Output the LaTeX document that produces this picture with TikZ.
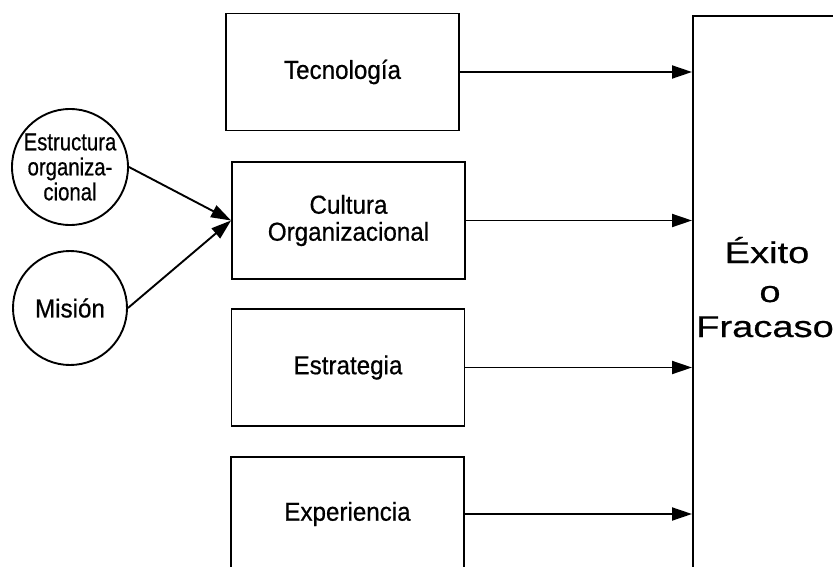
\documentclass[tikz,border=0pt]{standalone}
\usepackage{fontspec}
\setmainfont[FakeStretch=0.93, FakeBold=0.6]{Liberation Sans}
\newfontfamily\circfont[FakeStretch=0.83, FakeBold=0.6]{Liberation Sans}
\newfontfamily\bigfont[FakeStretch=1.27, FakeBold=0.6]{Liberation Sans}
\usetikzlibrary{arrows.meta}

\tikzset{
  stroke/.style={line width=1.9pt, draw=black},
  stepbox/.style={stroke, rectangle, minimum width=233pt, minimum height=117pt,
    inner sep=0pt, align=center, font=\fontsize{26}{27}\selectfont},
  factor/.style={stroke, circle, inner sep=0pt, align=center},
  link/.style={line width=1.9pt, -{Triangle[length=20pt,width=13pt]}},
  bigtext/.style={font=\bigfont\fontsize{30}{36}\selectfont, anchor=base, inner sep=0pt}
}

\begin{document}
\begin{tikzpicture}[x=1pt, y=-1pt]
  \clip (0,0) rectangle (833,567);
  \fill[white] (0,0) rectangle (833,567);

  % outcome box (runs past the right and bottom edges)
  \node[stroke, rectangle, anchor=north west, minimum width=260pt,
        minimum height=620pt, inner sep=0pt] (res) at (692,15) {};
  \node[bigtext] (exito) at (767,263) {Éxito};
  \node[bigtext] (o) at (770,302) {o};
  \node[bigtext] (fracaso) at (765,337) {Fracaso};

  % factor boxes
  \node[stepbox] (tec)  at (342.5,72)    {Tecnología};
  \node[stepbox] (cult) at (348.5,220.5) {Cultura\\Organizacional};
  \node[stepbox] (estr) at (348,367.5)   {Estrategia};
  \node[stepbox, minimum height=114pt] (expe) at (347.5,514) {Experiencia};

  % influences on culture
  \node[factor, minimum size=116pt, font=\circfont\fontsize{24.5}{25}\selectfont]
       (estc) at (70,167) {Estructura\\organiza-\\cional};
  \node[factor, minimum size=114pt, font=\fontsize{26}{27}\selectfont]
       (mis) at (70,308) {Misión};

  % connectors
  \draw[link] (estc.east) -- (cult.west);
  \draw[link] (mis.east) -- (cult.west);
  \draw[link] (tec.east)  -- (tec.east  -| res.west);
  \draw[link] (cult.east) -- (cult.east -| res.west);
  \draw[link] (estr.east) -- (estr.east -| res.west);
  \draw[link] (expe.east) -- (expe.east -| res.west);
\end{tikzpicture}
\end{document}
